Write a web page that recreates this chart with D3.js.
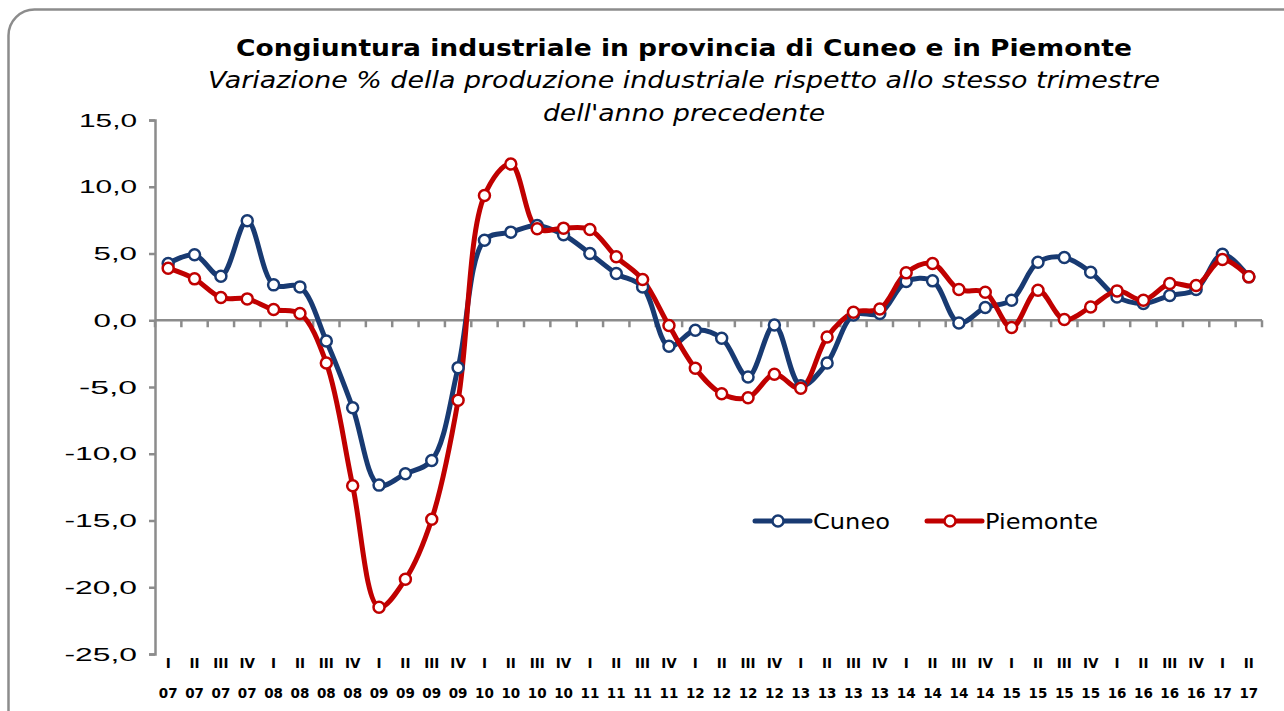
<!DOCTYPE html>
<html>
<head>
<meta charset="utf-8">
<script src="https://cdn.jsdelivr.net/npm/d3@7"></script>
<style>
  body { margin: 0; background: #fff; }
  svg { font-family: "DejaVu Sans", Verdana, sans-serif; }
  .tick-y { font-size: 19px; fill: #000; }
  .tick-x { font-size: 13.5px; font-weight: bold; fill: #000; }
</style>
</head>
<body>
<div id="chart"></div>
<script>
const quarters = ["I","II","III","IV"];
const years = ["07","08","09","10","11","12","13","14","15","16","17"];
const categories = [];
years.forEach(y => quarters.forEach(q => categories.push({ q: q, y: y })));
categories.splice(42);

const cuneo = [4.25, 4.9, 3.3, 7.45, 2.65, 2.5, -1.55, -6.55, -12.35, -11.5, -10.5, -3.55,
  6.0, 6.6, 7.1, 6.4, 5.0, 3.5, 2.5, -1.95, -0.75, -1.35, -4.25, -0.35,
  -4.9, -3.2, 0.4, 0.5, 2.9, 2.95, -0.2, 0.95, 1.5, 4.35, 4.7, 3.6,
  1.75, 1.25, 1.85, 2.3, 4.95, 3.25];
const piemonte = [3.9, 3.1, 1.7, 1.6, 0.8, 0.5, -3.2, -12.4, -21.5, -19.4, -14.9, -6.0,
  9.35, 11.7, 6.85, 6.9, 6.8, 4.75, 3.05, -0.4, -3.6, -5.5, -5.8, -4.05,
  -5.1, -1.25, 0.6, 0.85, 3.55, 4.25, 2.3, 2.1, -0.55, 2.25, 0.05, 1.0,
  2.2, 1.5, 2.75, 2.6, 4.55, 3.25];
const yTicks = [15, 10, 5, 0, -5, -10, -15, -20, -25];

const series = [
  { name: "Cuneo", values: cuneo, color: "#183a72" },
  { name: "Piemonte", values: piemonte, color: "#c00000" }
];

const W = 1284, H = 711;
const margin = { top: 120, right: 22, bottom: 57, left: 155 };
const width = W - margin.left - margin.right;
const height = H - margin.top - margin.bottom;

const svg = d3.select("#chart").append("svg")
  .attr("width", W).attr("height", H);

// outer frame
svg.append("rect")
  .attr("x", 8.5).attr("y", 9.5)
  .attr("width", 1300).attr("height", 740)
  .attr("rx", 26).attr("ry", 26)
  .attr("fill", "none").attr("stroke", "#8c8c8c").attr("stroke-width", 2.5);

const titles = [
  { text: "Congiuntura industriale in provincia di Cuneo e in Piemonte", y: 56, len: 896, bold: true },
  { text: "Variazione % della produzione industriale rispetto allo stesso trimestre", y: 88, len: 952, bold: false },
  { text: "dell'anno precedente", y: 121, len: 282, bold: false }
];
svg.selectAll(".title")
  .data(titles)
  .join("text")
  .attr("class", "title")
  .attr("x", d => 684 - d.len / 2)
  .attr("y", d => d.y)
  .attr("font-size", 23)
  .attr("font-weight", d => d.bold ? "bold" : "normal")
  .attr("font-style", d => d.bold ? "normal" : "italic")
  .attr("textLength", d => d.len)
  .attr("lengthAdjust", "spacingAndGlyphs")
  .text(d => d.text);

const chart = svg.append("g")
  .attr("transform", `translate(${margin.left},${margin.top})`);

const x = d3.scaleBand().domain(d3.range(categories.length)).range([0, width]);
const y = d3.scaleLinear().domain([-25, 15]).range([height, 0]);

// y axis
const yAxis = chart.append("g")
  .call(d3.axisLeft(y).tickValues(yTicks).tickSize(6).tickPadding(12)
    .tickFormat(d => d3.format(".1f")(d).replace(".", ",").replace("−", "-")));
yAxis.select(".domain").attr("stroke", "#8c8c8c").attr("stroke-width", 2.5);
yAxis.selectAll(".tick line").attr("stroke", "#8c8c8c").attr("stroke-width", 2.5);
yAxis.selectAll(".tick text")
  .attr("class", "tick-y").attr("font-size", null).attr("font-family", null)
  .attr("textLength", function () { return this.textContent.length * 14.5; })
  .attr("lengthAdjust", "spacingAndGlyphs");

// x axis at zero
const xAxisG = chart.append("g").attr("transform", `translate(0,${y(0)})`);
xAxisG.append("line")
  .attr("x1", 0).attr("x2", width)
  .attr("stroke", "#8c8c8c").attr("stroke-width", 2.5);
xAxisG.selectAll(".xtick")
  .data(d3.range(categories.length + 1))
  .join("line")
  .attr("class", "xtick")
  .attr("x1", d => d * x.step()).attr("x2", d => d * x.step())
  .attr("y1", 0).attr("y2", 7)
  .attr("stroke", "#8c8c8c").attr("stroke-width", 2.5);

// category labels at the bottom
const labels = chart.append("g").selectAll("text")
  .data(categories)
  .join("text")
  .attr("class", "tick-x")
  .attr("text-anchor", "middle")
  .attr("x", (d, i) => x(i) + x.bandwidth() / 2);
labels.append("tspan").attr("x", (d, i) => x(i) + x.bandwidth() / 2)
  .attr("y", height + 14).text(d => d.q);
labels.append("tspan").attr("x", (d, i) => x(i) + x.bandwidth() / 2)
  .attr("y", height + 44).text(d => d.y);

const line = d3.line()
  .x((d, i) => x(i) + x.bandwidth() / 2)
  .y(d => y(d))
  .curve(d3.curveCatmullRom.alpha(0.5));

series.forEach(s => {
  chart.append("path")
    .datum(s.values)
    .attr("fill", "none")
    .attr("stroke", s.color)
    .attr("stroke-width", 5)
    .attr("stroke-linejoin", "round")
    .attr("d", line);
});
series.forEach(s => {
  chart.append("g").selectAll("circle")
    .data(s.values)
    .join("circle")
    .attr("cx", (d, i) => x(i) + x.bandwidth() / 2)
    .attr("cy", d => y(d))
    .attr("r", 5.5)
    .attr("fill", "#fff")
    .attr("stroke", s.color)
    .attr("stroke-width", 2.5);
});

// legend
const legend = svg.append("g").attr("transform", "translate(755,521)");
const items = legend.selectAll("g")
  .data(series)
  .join("g")
  .attr("transform", (d, i) => `translate(${i * 172},0)`);
items.append("line")
  .attr("x1", 0).attr("x2", 55)
  .attr("stroke", d => d.color).attr("stroke-width", 5).attr("stroke-linecap", "round");
items.append("circle")
  .attr("cx", 23).attr("r", 5.5)
  .attr("fill", "#fff").attr("stroke", d => d.color).attr("stroke-width", 2.5);
items.append("text")
  .attr("x", 58).attr("y", 8)
  .attr("font-size", 22)
  .attr("textLength", (d, i) => i === 0 ? 77 : 113)
  .attr("lengthAdjust", "spacingAndGlyphs")
  .text(d => d.name);
</script>
</body>
</html>
